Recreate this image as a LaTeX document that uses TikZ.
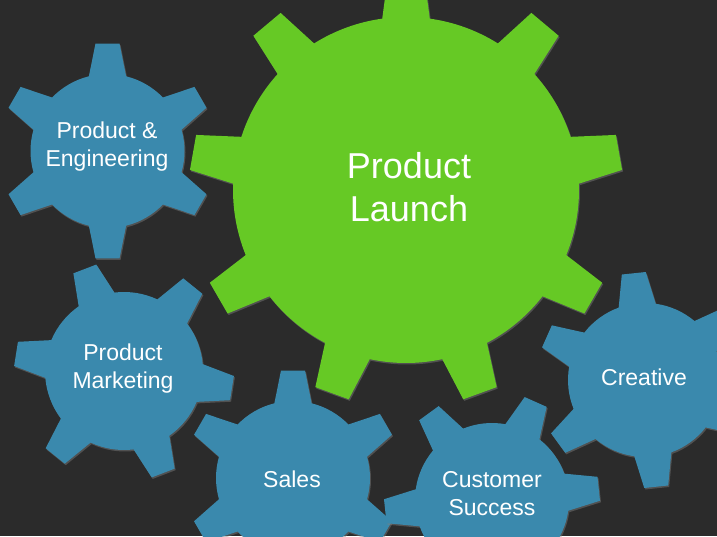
\documentclass[tikz,border=0pt]{standalone}
\usepackage{fontspec}
\setmainfont{Liberation Sans}
\usetikzlibrary{shadows}
\definecolor{slate}{HTML}{2B2B2B}
\definecolor{leaf}{HTML}{66C925}
\definecolor{steel}{HTML}{3A89AD}

\begin{document}
\begin{tikzpicture}[x=1pt,y=1pt,
    gearlabel/.style={text=white,align=center,font=\fontsize{23}{28}\selectfont},
    gearshade/.style={drop shadow={shadow xshift=1pt,shadow yshift=-1.5pt,opacity=.45}}]
  \clip (0,0) rectangle (717,536);
  \fill[slate] (0,0) rectangle (717,536);
  % cogs: centre, inner and outer radius, teeth, first tooth, half widths
  \foreach \cx/\cy/\rin/\rout/\nt/\off/\bw/\tw/\col in {
      107.5/385/77/108/6/90/14/6.4/steel,
      124/165/79/110/6/111/14/6.4/steel,
      293/58/77/108/6/90/14/6.4/steel,
      492/36/77/108/6/6/14/6.4/steel,
      645/156/77/108/6/96/14/6.4/steel,
      406/346/173/217/9/90/7.9/4.7/leaf}{
    \pgfmathsetmacro\stp{360/\nt}
    \fill[\col,gearshade,shift={(\cx,\cy)}] ({\off-\bw}:\rin pt)
      \foreach \k in {1,...,\nt}{
        -- ({\off+(\k-1)*\stp-\tw}:\rout pt) -- ({\off+(\k-1)*\stp+\tw}:\rout pt)
        -- ({\off+(\k-1)*\stp+\bw}:\rin pt)
        arc[start angle={\off+(\k-1)*\stp+\bw},end angle={\off+\k*\stp-\bw},radius=\rin pt]
      } -- cycle;
  }
  % labels
  \node[gearlabel] (prodeng) at (107,389) {Product \&\\Engineering};
  \node[gearlabel] (marketing) at (123,167.5) {Product\\Marketing};
  \node[gearlabel] (sales) at (292,57) {Sales};
  \node[gearlabel] (success) at (492,42.5) {Customer\\Success};
  \node[gearlabel] (creative) at (644,159) {Creative};
  \node[gearlabel,font=\fontsize{36}{43}\selectfont] (launch) at (409,348.5) {Product\\Launch};
\end{tikzpicture}
\end{document}
